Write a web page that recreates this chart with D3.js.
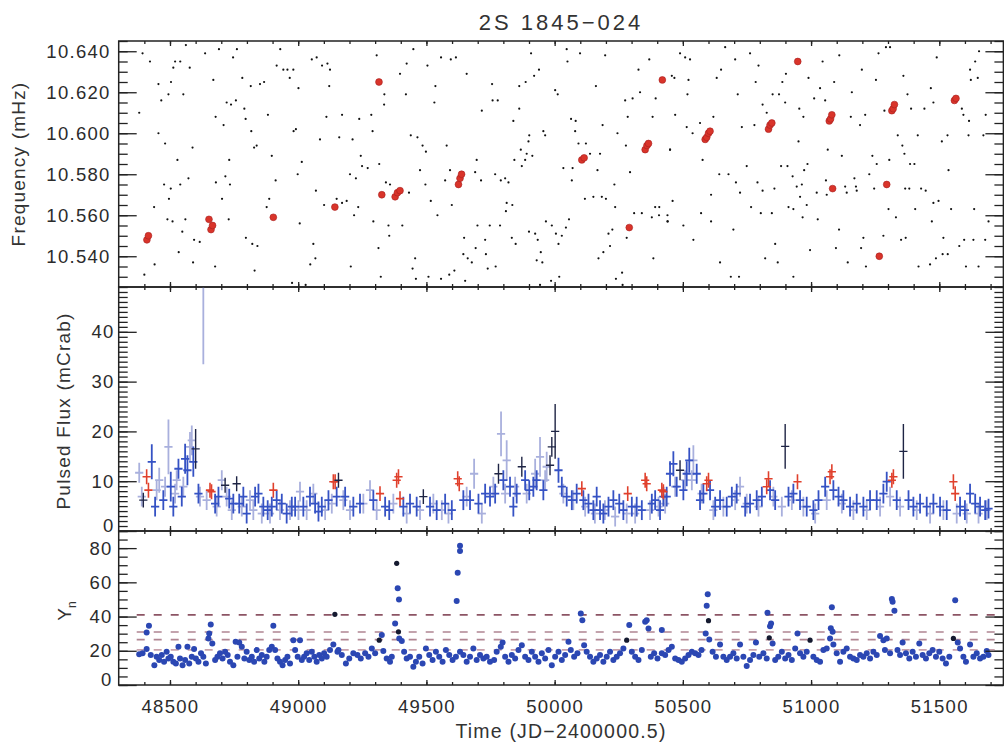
<!DOCTYPE html>
<html>
<head>
<meta charset="utf-8">
<script src="https://cdn.jsdelivr.net/npm/d3@7"></script>
<style>
body { margin: 0; background: #fff; }
</style>
</head>
<body>
<div id="chart"></div>
<script>

// ---- data ----

// top panel: frequency measurements, [time, mHz]
var freqDots = [
[48393,10.639],[48422,10.635],[48380,10.610],[48455,10.624],[48466,10.616],[48455,10.600],[48481,10.595],[48494,10.619],[48504,10.625],[48513,10.632],
[48520,10.635],[48540,10.635],[48562,10.643],[48577,10.632],[48552,10.619],[48637,10.639],[48669,10.626],[48691,10.641],[48761,10.641],[48746,10.637],
[48782,10.627],[48815,10.623],[48851,10.624],[48867,10.625],[48678,10.608],[48709,10.604],[48721,10.615],[48738,10.614],[48757,10.616],[48790,10.612],
[48795,10.607],[48817,10.601],[48828,10.593],[48838,10.594],[48882,10.609],[48916,10.633],[48942,10.631],[48958,10.631],[48981,10.631],[48967,10.627],
[48930,10.641],[49001,10.622],[49053,10.636],[49072,10.637],[49093,10.633],[49114,10.634],[49124,10.631],[49121,10.623],[49110,10.608],[48991,10.602],
[48982,10.601],[49085,10.597],[48588,10.593],[48529,10.587],[48572,10.578],[48540,10.575],[48477,10.575],[48503,10.573],[48496,10.568],[48438,10.564],
[48490,10.558],[48510,10.557],[48560,10.558],[48548,10.552],[48594,10.548],[48616,10.547],[48534,10.542],[48679,10.576],[48734,10.575],[48731,10.587],
[48716,10.579],[48703,10.568],[48729,10.558],[48796,10.549],[48821,10.546],[48841,10.545],[48887,10.568],[48912,10.577],[48897,10.589],[48998,10.580],
[49014,10.586],[48877,10.564],[48830,10.533],[48976,10.527],[49029,10.526],[49101,10.565],[49069,10.572],[49059,10.546],[49067,10.539],[49047,10.536],
[49006,10.556],[48400,10.531],[48440,10.536],[48590,10.537],[48676,10.535],[49150,10.568],
[49306,10.638],[49449,10.641],[49423,10.634],[49397,10.629],[49504,10.633],[49557,10.637],[49595,10.636],[49615,10.637],[49657,10.629],[49336,10.619],
[49420,10.619],[49335,10.614],[49531,10.615],[49535,10.623],[49285,10.609],[49238,10.607],[49171,10.609],[49290,10.601],[49160,10.598],[49212,10.597],
[49439,10.599],[49465,10.598],[49485,10.594],[49498,10.591],[49579,10.594],[49716,10.611],[49756,10.624],[49758,10.616],[49778,10.616],[49862,10.623],
[49887,10.625],[49920,10.628],[49939,10.631],[49908,10.639],[50047,10.641],[50050,10.635],[50099,10.639],[50197,10.638],[50161,10.623],[50002,10.621],
[50012,10.619],[50064,10.607],[50082,10.606],[50080,10.601],[50187,10.604],[49839,10.606],[49901,10.599],[49862,10.612],[49956,10.601],[49963,10.599],
[49898,10.596],[49868,10.592],[49891,10.590],[49913,10.589],[49885,10.587],[49843,10.587],[49872,10.584],[50093,10.595],[50122,10.595],[50177,10.590],
[50138,10.590],[50070,10.583],[50034,10.583],[50067,10.577],[50167,10.582],[50245,10.600],[50285,10.608],[50304,10.617],[50333,10.620],[50275,10.616],
[50327,10.631],[50369,10.636],[50394,10.617],[50382,10.608],[50278,10.594],[50294,10.581],[50450,10.592],[49244,10.589],[49249,10.584],[49271,10.583],
[49316,10.585],[49202,10.580],[49225,10.578],[49342,10.576],[49358,10.575],[49432,10.571],[49475,10.582],[49496,10.575],[49592,10.582],[49573,10.577],
[49690,10.581],[49713,10.577],[49696,10.587],[49768,10.580],[49790,10.577],[49807,10.578],[49820,10.576],[49813,10.566],[49835,10.565],[49810,10.562],
[49517,10.567],[49599,10.565],[49543,10.560],[49293,10.557],[49352,10.555],[49406,10.555],[49355,10.550],[49218,10.560],[49234,10.564],[49189,10.567],
[49171,10.566],[49313,10.544],[49205,10.535],[49456,10.539],[49446,10.534],[49322,10.530],[49459,10.529],[49508,10.530],[49557,10.529],[49589,10.531],
[49609,10.533],[49651,10.528],[49644,10.541],[49661,10.539],[49677,10.537],[49647,10.549],[49699,10.555],[49747,10.555],[49787,10.555],[49729,10.548],
[49692,10.544],[49732,10.541],[49739,10.534],[49770,10.535],[49833,10.549],[49848,10.546],[49900,10.552],[49924,10.551],[49934,10.548],[49946,10.542],
[49930,10.538],[49952,10.537],[49966,10.557],[49989,10.555],[50005,10.551],[50028,10.550],[50015,10.546],[50044,10.554],[50056,10.558],[50018,10.530],
[49986,10.528],[49943,10.526],[50171,10.539],[50190,10.542],[50216,10.545],[50210,10.551],[50225,10.553],[50200,10.568],[50184,10.569],[50151,10.569],
[50118,10.568],[50233,10.575],[50281,10.549],[50236,10.564],[50310,10.561],[50340,10.561],[50379,10.559],[50392,10.564],[50408,10.564],[50407,10.560],
[50441,10.557],[50385,10.539],[50239,10.529],[50263,10.532],[50265,10.526],
[50489,10.639],[50509,10.637],[50528,10.636],[50665,10.642],[50762,10.639],[50704,10.636],[50649,10.631],[50795,10.633],[50632,10.627],[50457,10.628],
[50467,10.627],[50522,10.626],[50518,10.619],[50470,10.609],[50515,10.603],[50538,10.600],[50567,10.605],[50619,10.608],[50450,10.592],[50577,10.587],
[50714,10.619],[50784,10.625],[50850,10.619],[50875,10.619],[50888,10.625],[50902,10.629],[50899,10.615],[50811,10.614],[50827,10.610],[50730,10.603],
[50779,10.604],[50951,10.596],[50954,10.612],[50970,10.608],[50990,10.627],[51045,10.635],[51110,10.638],[51012,10.617],[51035,10.622],[51055,10.616],
[51090,10.625],[51159,10.620],[51198,10.631],[51253,10.626],[51263,10.639],[51292,10.642],[51308,10.642],[51360,10.628],[51376,10.619],[51467,10.622],
[51490,10.637],[51640,10.635],[51655,10.640],[51620,10.631],[51650,10.627],[51623,10.626],[51477,10.615],[51442,10.612],[51390,10.612],[51286,10.611],
[51211,10.609],[51155,10.608],[51191,10.604],[51588,10.612],[51594,10.609],[51616,10.606],[51681,10.609],[51672,10.599],[51614,10.599],[51532,10.599],
[51510,10.596],[51416,10.599],[51338,10.599],[51356,10.594],[51364,10.590],[51386,10.585],[51403,10.585],[51305,10.587],[51239,10.589],[51256,10.585],
[51227,10.580],[51120,10.589],[51065,10.592],[50986,10.585],[50973,10.582],[50908,10.584],[50883,10.584],[50749,10.584],[50610,10.570],[50642,10.580],
[50678,10.580],[50707,10.576],[50723,10.571],[50791,10.576],[50811,10.572],[50857,10.573],[50928,10.579],[50944,10.574],[50964,10.575],[50957,10.569],
[50983,10.565],[51022,10.571],[51058,10.577],[51061,10.570],[51133,10.574],[51139,10.571],[51175,10.574],[51178,10.572],[51169,10.578],[51246,10.573],
[51367,10.573],[51383,10.573],[51429,10.573],[51447,10.572],[51477,10.566],[51497,10.567],[51536,10.582],[51546,10.563],[51636,10.563],[51692,10.557],
[51633,10.548],[51597,10.548],[51578,10.545],[51516,10.549],[51533,10.541],[51513,10.541],[51487,10.539],[51464,10.536],[51419,10.535],[51471,10.557],
[51406,10.563],[51331,10.559],[51302,10.563],[51204,10.549],[51195,10.544],[51282,10.550],[51369,10.549],[51351,10.548],[51214,10.535],[51143,10.537],
[51097,10.544],[51109,10.553],[51026,10.558],[50996,10.543],[50967,10.559],[50912,10.564],[50931,10.563],[50847,10.561],[50804,10.561],[50766,10.564],
[50697,10.553],[50610,10.557],[50571,10.561],[50541,10.548],[50502,10.555],[50460,10.567],[50440,10.560],[50440,10.557],[50645,10.537],[50687,10.530],
[50719,10.530],[50821,10.539],[50870,10.537],[50860,10.546],[50931,10.530],[51653,10.535],[51604,10.535],[51679,10.548]
];

// top panel: timed frequency detections (red)
var freqRed = [
[48410,10.548],[48416,10.550],[48652,10.558],[48660,10.553],[48666,10.555],[48903,10.559],[49143,10.564],[49315,10.625],[49326,10.570],
[49378,10.569],[49387,10.571],[49397,10.572],[49625,10.575],[49631,10.578],[49637,10.580],[50106,10.587],[50115,10.588],[50291,10.554],
[50353,10.592],[50360,10.594],[50366,10.595],[50420,10.626],[50948,10.635],[50587,10.597],[50593,10.598],[50600,10.600],[50606,10.601],
[50834,10.602],[50840,10.604],[50847,10.605],[51071,10.606],[51076,10.607],[51081,10.609],[51315,10.611],[51320,10.612],[51325,10.614],
[51559,10.616],[51565,10.617],[51084,10.573],[51295,10.575],[51266,10.540]
];

// middle panel: pulsed flux, [time, mCrab, error]
var fluxLight = [
[48380,11.7,2],[48458,10.2,2.5],[48494,16.9,5.5],[48526,10.2,2],[48578,16.9,3],[48585,18.2,3],[48630,50,16.5],[48702,10.2,2],[48812,6.2,2],
[49007,7.9,2],[49280,8.2,2],[49686,11.5,3],[49791,19.5,4.5],[49813,14.2,4],[49943,14.9,4],[49969,12.9,3],[50541,14.2,3],[50723,8.9,2],
[48390,6.9,2],[48448,8.2,2],[48481,8.9,2],[48520,7.5,2],[48552,8.9,2],[48617,6.9,2],[48643,6.2,2],[48682,4.9,2],[48721,6.9,2],[48741,4.2,2],
[48780,4.9,2],[48825,4.2,2],[48858,3.5,2],[48890,3.5,2],[48929,4.2,2],[48968,4.2,2],[49001,4.2,2],[49033,4.2,2],[49059,7.5,2],[49105,4.2,2],
[49131,5.5,2],[49176,6.2,2],[49202,4.2,2],[49254,5.5,2],[49306,4.2,2],[49371,5.5,2],[49423,3.5,2],[49475,4.2,2],[49527,5.5,2],[49560,4.2,2],
[49586,3.5,2],[49657,6.9,2],[49716,3.5,2],[49761,8.9,2],[49807,7.5,2],[49846,8.9,2],[49891,7.5,2],[49924,11.5,3],[49963,10.2,2],[50034,7.5,2],
[50073,6.2,2],[50119,4.9,2],[50157,3.5,2],[50196,4.2,2],[50236,2.9,2],[50281,3.5,2],[50314,3.5,2],[50372,4.2,2],[50405,4.9,2],[50431,5.5,2],
[50470,8.9,2],[50509,10.2,2],[50535,10.2,2],[50573,7.5,2],[50619,4.2,2],[50658,4.9,2],[50704,6.2,2],[50749,5.5,2],[50795,4.9,2],[50853,6.9,2],
[50886,4.9,2],[50925,6.2,2],[50970,4.9,2],[51016,3.5,2],[51061,6.2,2],[51120,5.5,2],[51165,4.2,2],[51217,4.2,2],[51269,4.9,2],[51308,6.9,2],
[51347,4.9,2],[51412,4.2,2],[51464,3.5,2],[51516,4.2,2],[51568,3.5,2],[51607,3.5,2],[51653,3.5,2],[51685,4.2,2]
];

var fluxBlue = [
[48429,13.9,3.5],[48442,4.9,2],[48474,6.2,2],[48503,8.9,3],[48513,4.9,2],[48533,12.5,2],[48546,6.9,2],[48559,14.5,3],[48568,12.2,3],
[48591,13.9,3],[48611,7.5,2],[48676,5.5,2],[48689,6.9,2],[48731,6.5,2],[48747,5.5,2],[48770,5.5,2],[48786,6.9,2],[48799,3.5,2],
[48832,6.9,2],[48845,7.5,2],[48864,4.9,2],[48881,4.2,2],[48897,4.9,2],[48916,6.2,2],[48936,5.5,2],[48955,3.5,2],[48975,4.9,2],
[48988,4.9,2],[49020,4.9,2],[49046,6.9,2],[49066,5.5,2],[49079,3.9,2],[49092,4.9,2],[49118,6.2,2],[49150,6.9,2],[49183,6.9,2],
[49215,4.9,2],[49241,5.5,2],[49293,6.2,2],[49339,4.9,2],[49355,4.2,2],[49410,4.9,2],[49436,5.5,2],[49462,4.9,2],[49514,4.9,2],
[49540,4.2,2],[49573,5.5,2],[49599,4.2,2],[49644,6.2,2],[49670,6.2,2],[49703,5.5,2],[49729,7.5,2],[49748,6.9,2],[49768,7.5,2],
[49800,10.2,2],[49826,8.9,2],[49839,4.9,2],[49852,7.5,2],[49885,10.2,2],[49901,8.2,2],[49917,8.9,2],[49930,10.2,2],[49956,8.2,2],
[50015,12.2,2.5],[50028,8.9,2],[50047,6.9,2],[50067,6.2,2],[50086,7.5,2],[50112,6.2,2],[50132,5.5,2],[50151,4.2,2],[50164,6.9,2],
[50177,4.2,2],[50190,3.5,2],[50210,4.9,2],[50229,6.2,2],[50252,5.5,2],[50268,4.2,2],[50301,4.9,2],[50320,4.9,2],[50340,4.2,2],
[50379,5.5,2],[50392,6.2,2],[50411,4.2,2],[50424,6.9,2],[50437,6.9,2],[50450,11.5,2.5],[50463,13.5,2.5],[50476,8.9,2],[50502,8.2,2],
[50515,11.5,2.5],[50525,14.2,2.5],[50554,11.5,2],[50567,6.2,2],[50580,7.5,2],[50606,8.2,2],[50626,4.9,2],[50645,6.2,2],[50671,4.9,2],
[50691,6.9,2],[50710,7.5,2],[50743,4.9,2],[50762,5.5,2],[50788,6.2,2],[50808,6.9,2],[50840,8.2,2],[50860,6.2,2],[50912,6.9,2],
[50931,7.5,2],[50957,6.2,2],[50983,4.9,2],[51009,4.2,2],[51029,6.2,2],[51055,8.9,2],[51087,8.2,2],[51107,6.9,2],[51126,6.2,2],
[51152,4.9,2],[51178,5.5,2],[51204,4.9,2],[51230,6.2,2],[51256,6.2,2],[51282,7.5,2],[51295,9.9,2],[51334,6.2,2],[51380,6.2,2],
[51399,4.9,2],[51425,5.5,2],[51451,4.9,2],[51477,5.5,2],[51503,4.9,2],[51529,4.2,2],[51581,4.9,2],[51600,4.2,2],[51620,7.5,2],
[51640,5.5,2],[51659,4.9,2],[51679,4.2,2],[51692,4.5,2]
];

var fluxBlack = [
[48396,6.2,1.5],[48600,16.5,4],[48715,9.2,1.5],[48760,9.5,1.5],[49157,10.2,1.5],[49488,6.9,1.5],[49781,11.5,2],[49872,12.9,2],[49982,13.2,2],
[49989,16.9,2],[50002,20.0,5.5],[50489,12.2,2],[50899,17.0,4.5],[51360,16.0,5.5]
];

var fluxRed = [
[48409,10.9,1.5],[48416,8.2,1.5],[48656,8.2,1.5],[48662,7.9,1.5],[48903,8.2,1.5],[49137,9.9,1.5],[49144,9.9,1.5],[49319,7.5,1.5],[49384,10.2,1.5],
[49391,10.9,1.5],[49397,6.5,1.5],[49622,10.5,1.5],[49628,9.5,1.5],[50106,8.5,1.5],[50285,7.5,1.5],[50353,10.2,1.5],[50359,9.5,1.5],[50418,8.2,1.5],
[50424,7.9,1.5],[50593,9.5,1.5],[50600,10.2,1.5],[50827,8.9,1.5],[50834,10.5,1.5],[50947,9.9,1.5],[51074,10.9,1.5],[51081,11.9,1.5],[51315,10.2,1.5],
[51321,10.9,1.5],[51555,9.9,1.5],[51562,7.5,1.5]
];

// bottom panel: Y_n statistic, [time, Yn]
var ynBlue = [
[48380,17.9],[48393,18.5],[48409,21.0],[48409,30.7],[48418,34.6],[48425,17.5],[48439,11.6],[48448,16.5],[48458,14.6],[48468,17.5],
[48477,13.6],[48487,19.4],[48494,15.5],[48503,16.5],[48513,13.6],[48523,12.6],[48533,22.3],[48539,15.5],[48549,11.6],[48559,14.6],
[48568,22.3],[48575,12.6],[48585,16.5],[48594,21.0],[48601,15.5],[48611,13.6],[48621,18.5],[48630,16.5],[48640,12.6],[48650,27.2],
[48653,30.1],[48659,35.4],[48665,24.3],[48676,14.6],[48685,16.5],[48695,18.5],[48705,15.5],[48715,19.4],[48725,17.5],[48734,13.6],
[48747,11.6],[48756,25.3],[48763,16.5],[48770,24.9],[48780,22.3],[48790,15.5],[48799,19.4],[48809,14.6],[48819,16.5],[48828,13.6],
[48838,20.4],[48848,15.5],[48858,17.5],[48868,13.6],[48877,16.5],[48887,20.4],[48897,22.3],[48903,34.6],[48910,20.4],[48919,15.5],
[48929,13.6],[48939,11.6],[48949,14.6],[48958,16.5],[48968,12.6],[48981,26.2],[48988,20.4],[48998,16.5],[49007,26.2],[49014,14.6],
[49023,16.5],[49033,18.5],[49043,14.6],[49053,19.4],[49063,16.5],[49072,13.6],[49082,17.5],[49092,15.5],[49101,18.5],[49111,16.5],
[49124,20.4],[49137,23.7],[49153,19.4],[49157,20.4],[49170,17.5],[49186,12.6],[49199,15.5],[49215,18.5],[49231,17.5],[49244,15.5],
[49261,18.5],[49274,16.5],[49287,21.4],[49300,18.5],[49326,29.2],[49332,19.8],[49345,15.5],[49358,13.6],[49365,16.5],[49378,36.0],
[49388,56.5],[49393,50.0],[49394,27.2],[49404,25.7],[49413,19.4],[49423,15.5],[49436,16.5],[49449,10.7],[49459,13.6],[49472,16.5],
[49485,12.6],[49498,21.4],[49511,17.5],[49524,14.6],[49537,19.4],[49550,16.5],[49563,13.6],[49576,20.4],[49589,17.5],[49602,14.6],
[49618,49.1],[49622,65.6],[49631,78.3],[49631,81.4],[49615,16.5],[49631,19.4],[49644,17.5],[49657,13.6],[49670,16.5],[49683,21.4],
[49696,14.6],[49709,17.5],[49722,15.5],[49735,16.5],[49748,13.6],[49764,14.6],[49774,19.4],[49790,22.3],[49797,24.9],[49807,16.5],
[49820,13.6],[49833,17.5],[49846,15.5],[49859,20.4],[49872,23.3],[49885,16.5],[49898,14.6],[49911,19.4],[49924,16.5],[49937,13.6],
[49950,18.5],[49963,15.5],[49976,20.4],[49989,11.6],[50002,16.5],[50015,19.4],[50028,14.6],[50041,17.5],[50054,25.3],[50063,20.4],
[50076,16.5],[50089,18.5],[50102,41.8],[50108,37.9],[50115,23.3],[50125,19.4],[50138,16.5],[50151,13.6],[50164,15.5],[50177,17.5],
[50190,13.6],[50203,16.5],[50216,19.4],[50229,14.6],[50242,16.5],[50255,18.5],[50268,21.4],[50291,35.0],[50301,19.4],[50314,16.5],
[50327,14.6],[50340,20.4],[50353,37.0],[50359,37.9],[50366,33.0],[50375,16.5],[50388,18.5],[50401,15.5],[50418,32.1],[50418,18.5],
[50431,17.5],[50444,20.4],[50457,22.3],[50470,15.5],[50483,14.6],[50496,13.6],[50509,15.5],[50522,17.5],[50535,19.4],[50548,18.5],
[50561,17.5],[50573,20.4],[50589,30.1],[50593,46.3],[50597,53.1],[50603,26.6],[50616,19.4],[50629,16.5],[50645,23.7],[50658,16.5],
[50671,14.6],[50684,16.5],[50697,18.5],[50710,15.5],[50723,23.7],[50736,16.5],[50749,11.1],[50762,14.6],[50775,17.5],[50785,24.9],
[50798,16.5],[50814,18.5],[50827,15.5],[50830,42.2],[50840,34.4],[50844,36.0],[50850,24.3],[50860,14.6],[50872,16.5],[50886,19.4],
[50899,15.5],[50912,17.5],[50925,14.6],[50938,21.4],[50947,30.1],[50957,18.5],[50970,16.5],[50983,19.4],[51009,16.5],[51022,14.6],
[51035,13.6],[51048,20.4],[51061,21.4],[51074,27.2],[51077,33.1],[51081,45.4],[51084,31.1],[51087,23.7],[51100,18.5],[51113,13.6],
[51126,19.4],[51139,21.4],[51152,16.5],[51165,15.5],[51178,14.6],[51191,17.5],[51204,16.5],[51217,18.5],[51230,15.5],[51243,19.4],
[51256,17.5],[51269,28.6],[51282,26.2],[51288,20.4],[51295,27.2],[51308,18.5],[51315,50.2],[51318,48.7],[51325,43.4],[51337,20.4],
[51347,17.5],[51357,24.9],[51370,18.5],[51383,15.5],[51396,19.4],[51409,16.5],[51422,24.3],[51435,17.5],[51448,15.5],[51461,18.5],
[51474,20.4],[51487,16.5],[51500,19.4],[51513,15.5],[51526,12.6],[51539,16.5],[51562,49.6],[51572,24.9],[51581,21.4],[51594,16.5],
[51604,13.6],[51620,23.7],[51633,16.5],[51646,18.5],[51659,15.5],[51672,16.5],[51685,19.8],[51692,17.5]
];

var ynBlack = [
[49143,41.3],[49316,26.2],[49384,71.1],[49391,31.1],[50281,26.2],[50600,37.6],[50837,27.6],[50996,26.2],[51555,27.2]
];

// detection threshold levels
var ynLevels = [20.5, 26.5, 31, 41];

// tick labels
var timeTicks = [48500, 49000, 49500, 50000, 50500, 51000, 51500];
var freqTicks = [10.540, 10.560, 10.580, 10.600, 10.620, 10.640];
var fluxTicks = [0, 10, 20, 30, 40];
var ynTicks = [0, 20, 40, 60, 80];


// ---- layout ----
var width = 1004,
    height = 744;

var plotLeft = 118.7,
    plotRight = 1003.4;

var fontFam = "'Liberation Sans', Arial, sans-serif";
var ink = "#222";

var svg = d3.select("#chart").append("svg")
    .attr("width", width)
    .attr("height", height)
    .style("background", "#fff");

var x = d3.scaleLinear().domain([48300, 51750]).range([plotLeft, plotRight]);

var yFreq = d3.scaleLinear().domain([10.525, 10.645]).range([287, 41]);
var yFlux = d3.scaleLinear().domain([0, 49]).range([531, 287]);
var yYn = d3.scaleLinear().domain([0, 90]).range([685, 531]);

var defs = svg.append("defs");
[["clipFreq", yFreq], ["clipFlux", yFlux], ["clipYn", yYn]].forEach(function(c) {
  var r = c[1].range();
  defs.append("clipPath").attr("id", c[0]).append("rect")
      .attr("x", plotLeft).attr("y", r[1])
      .attr("width", plotRight - plotLeft).attr("height", r[0] - r[1]);
});

function styleAxis(g) {
  g.attr("color", ink)
   .attr("font-family", fontFam)
   .attr("font-size", 18.5);
  g.selectAll(".domain").remove();
  g.selectAll("line").attr("stroke-width", 1.3);
  g.selectAll("text").attr("fill", "#2b2b2b").attr("letter-spacing", 1.3);
}

// y axes, left with labels, right plain, ticks pointing inward
function yAxes(y, major, minor, fmt, pad) {
  svg.append("g").attr("transform", "translate(" + plotLeft + ",0)")
      .call(d3.axisLeft(y).tickValues(minor).tickSize(-9).tickFormat(""))
      .call(styleAxis);
  var lab = svg.append("g").attr("transform", "translate(" + plotLeft + ",0)")
      .call(d3.axisLeft(y).tickValues(major).tickSize(-18).tickPadding(pad).tickFormat(fmt))
      .call(styleAxis);
  svg.append("g").attr("transform", "translate(" + plotRight + ",0)")
      .call(d3.axisRight(y).tickValues(minor).tickSize(-9).tickFormat(""))
      .call(styleAxis);
  svg.append("g").attr("transform", "translate(" + plotRight + ",0)")
      .call(d3.axisRight(y).tickValues(major).tickSize(-18).tickFormat(""))
      .call(styleAxis);
  return lab;
}

// x ticks on top and bottom of a panel
function xTicks(y, labels) {
  var r = y.range();
  var minor = d3.range(48400, 51750, 100);
  svg.append("g").attr("transform", "translate(0," + r[0] + ")")
      .call(d3.axisBottom(x).tickValues(minor).tickSize(-3).tickFormat(""))
      .call(styleAxis);
  svg.append("g").attr("transform", "translate(0," + r[1] + ")")
      .call(d3.axisTop(x).tickValues(minor).tickSize(-3).tickFormat(""))
      .call(styleAxis);
  svg.append("g").attr("transform", "translate(0," + r[1] + ")")
      .call(d3.axisTop(x).tickValues(timeTicks).tickSize(-5).tickFormat(""))
      .call(styleAxis);
  svg.append("g").attr("transform", "translate(0," + r[0] + ")")
      .call(d3.axisBottom(x).tickValues(timeTicks).tickSize(-5).tickPadding(15)
            .tickFormat(labels ? d3.format("d") : ""))
      .call(styleAxis);
}

function frame(y) {
  var r = y.range();
  svg.append("rect")
      .attr("x", plotLeft).attr("y", r[1])
      .attr("width", plotRight - plotLeft).attr("height", r[0] - r[1])
      .attr("fill", "none").attr("stroke", ink).attr("stroke-width", 1.5);
}


// ---- top panel: frequency ----
var gFreq = svg.append("g").attr("clip-path", "url(#clipFreq)");

gFreq.selectAll(".fdot").data(freqDots).enter().append("circle")
    .attr("cx", function(d) { return x(d[0]); })
    .attr("cy", function(d) { return yFreq(d[1]); })
    .attr("r", 1.1)
    .attr("fill", "#111");

gFreq.selectAll(".fred").data(freqRed).enter().append("circle")
    .attr("cx", function(d) { return x(d[0]); })
    .attr("cy", function(d) { return yFreq(d[1]); })
    .attr("r", 3.4)
    .attr("fill", "#d9342a")
    .attr("stroke", "#a82020")
    .attr("stroke-width", 0.6);

yAxes(yFreq, freqTicks, d3.range(10.530, 10.6451, 0.005), d3.format(".3f"), 8);
xTicks(yFreq, false);
frame(yFreq);


// ---- middle panel: pulsed flux ----
var gFlux = svg.append("g").attr("clip-path", "url(#clipFlux)");
var barHalf = 16;  // days, half width of the horizontal bars

function crosses(data, color, w) {
  var g = gFlux.append("g").attr("stroke", color).attr("stroke-width", w);
  g.selectAll(".v").data(data).enter().append("line")
      .attr("x1", function(d) { return x(d[0]); })
      .attr("x2", function(d) { return x(d[0]); })
      .attr("y1", function(d) { return yFlux(d[1] - d[2]); })
      .attr("y2", function(d) { return yFlux(d[1] + d[2]); });
  g.selectAll(".h").data(data).enter().append("line")
      .attr("x1", function(d) { return x(d[0] - barHalf); })
      .attr("x2", function(d) { return x(d[0] + barHalf); })
      .attr("y1", function(d) { return yFlux(d[1]); })
      .attr("y2", function(d) { return yFlux(d[1]); });
}

crosses(fluxLight, "#a9b0dd", 1.8);
crosses(fluxBlue, "#3552c4", 1.8);
crosses(fluxRed, "#e0402c", 1.6);
crosses(fluxBlack, "#1e2444", 1.4);

var fluxLab = yAxes(yFlux, fluxTicks, d3.range(0, 49.1, 1), d3.format("d"), 4);
xTicks(yFlux, false);
frame(yFlux);


// ---- bottom panel: Yn ----
var gYn = svg.append("g").attr("clip-path", "url(#clipYn)");

gYn.selectAll(".lvl").data(ynLevels).enter().append("line")
    .attr("x1", plotLeft + 18)
    .attr("x2", plotRight)
    .attr("y1", function(d) { return yYn(d); })
    .attr("y2", function(d) { return yYn(d); })
    .attr("stroke", function(d, i) { return i == 3 ? "#8c5464" : (i == 0 ? "#c8a2ac" : "#b08592"); })
    .attr("stroke-width", 1.6)
    .attr("stroke-dasharray", "8,9");

gYn.selectAll(".yb").data(ynBlue).enter().append("circle")
    .attr("cx", function(d) { return x(d[0]); })
    .attr("cy", function(d) { return yYn(d[1]); })
    .attr("r", 3)
    .attr("fill", "#2b47b3");

gYn.selectAll(".yk").data(ynBlack).enter().append("circle")
    .attr("cx", function(d) { return x(d[0]); })
    .attr("cy", function(d) { return yYn(d[1]); })
    .attr("r", 2.6)
    .attr("fill", "#151a30");

var ynLab = yAxes(yYn, ynTicks, d3.range(0, 90.1, 5), d3.format("d"), 6);
ynLab.selectAll("text").filter(function(d) { return d === 0; }).attr("dy", "0.05em");
fluxLab.selectAll("text").filter(function(d) { return d === 0; }).attr("dy", "0.05em");
xTicks(yYn, true);
frame(yYn);


// ---- titles ----
svg.append("text")
    .attr("x", 561).attr("y", 30)
    .attr("text-anchor", "middle")
    .attr("font-family", fontFam)
    .attr("font-size", 22)
    .attr("letter-spacing", 3)
    .attr("fill", "#333")
    .text("2S 1845\u2212024");

svg.append("text")
    .attr("x", 561).attr("y", 738)
    .attr("text-anchor", "middle")
    .attr("font-family", fontFam)
    .attr("font-size", 19.5)
    .attr("letter-spacing", 1.2)
    .attr("fill", "#333")
    .text("Time (JD\u22122400000.5)");

svg.append("text")
    .attr("transform", "translate(25,164) rotate(-90)")
    .attr("text-anchor", "middle")
    .attr("font-family", fontFam)
    .attr("font-size", 19)
    .attr("letter-spacing", 1.2)
    .attr("fill", "#333")
    .text("Frequency (mHz)");

svg.append("text")
    .attr("transform", "translate(70,411) rotate(-90)")
    .attr("text-anchor", "middle")
    .attr("font-family", fontFam)
    .attr("font-size", 19)
    .attr("letter-spacing", 1.2)
    .attr("fill", "#333")
    .text("Pulsed Flux (mCrab)");

var ynTitle = svg.append("text")
    .attr("transform", "translate(71,611) rotate(-90)")
    .attr("text-anchor", "middle")
    .attr("font-family", fontFam)
    .attr("font-size", 19)
    .attr("fill", "#333");
ynTitle.append("tspan").text("Y");
ynTitle.append("tspan").attr("dy", 5).attr("font-size", 12).text("n");

</script>
</body>
</html>
